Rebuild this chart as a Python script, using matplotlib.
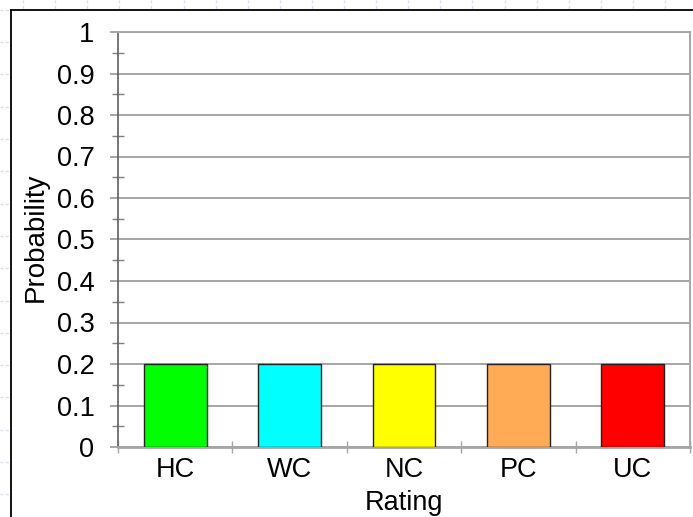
import matplotlib
matplotlib.use("Agg")
import matplotlib.pyplot as plt
import numpy as np
from matplotlib.lines import Line2D
from matplotlib.ticker import MultipleLocator, FuncFormatter

plt.rcParams['font.family'] = ['Liberation Sans', 'DejaVu Sans']

# Data
ratings = ["HC", "WC", "NC", "PC", "UC"]
probabilities = [0.2, 0.2, 0.2, 0.2, 0.2]
bar_colors = ["#00FF00", "#00FFFF", "#FFFF00", "#FFAA55", "#FF0000"]

W, H = 693, 517
fig = plt.figure(figsize=(W / 100, H / 100), dpi=100)
fig.patch.set_facecolor("white")


def fx(px):
    return px / W


def fy(py):
    return 1 - py / H


# faint worksheet cell grid visible around the chart frame
for gx in np.arange(23, W, 32.1):
    fig.add_artist(Line2D([fx(gx), fx(gx)], [fy(0), fy(9)], color="#d6def2",
                          lw=1, ls=(0, (2, 2))))
for gy in np.arange(9.8, H, 32.3):
    fig.add_artist(Line2D([fx(0), fx(10)], [fy(gy), fy(gy)], color="#d6def2",
                          lw=1, ls=(0, (2, 2))))

# chart frame
fig.add_artist(Line2D([fx(11), fx(W)], [fy(10), fy(10)], color="black", lw=1.3))
fig.add_artist(Line2D([fx(11), fx(11)], [fy(10), fy(H)], color="black", lw=1.3))

ax = fig.add_axes([fx(118), fy(447), fx(690) - fx(118), fy(32) - fy(447)])
x = np.arange(len(ratings))
ax.bar(x, probabilities, width=0.55, color=bar_colors, edgecolor="#222222",
       linewidth=1.0, zorder=3)

ax.set_xlim(-0.5, len(ratings) - 0.5)
ax.set_ylim(0, 1)

ax.yaxis.set_major_locator(MultipleLocator(0.1))
ax.yaxis.set_minor_locator(MultipleLocator(0.05))
ax.yaxis.set_major_formatter(FuncFormatter(lambda v, p: f"{v:.1f}".rstrip("0").rstrip(".") if v else "0"))
ax.grid(axis="y", which="major", color="#a6a6a6", lw=1.4, zorder=0)

ax.set_xticks(x)
ax.set_xticklabels(ratings)
ax.set_xticks(np.arange(-0.5, len(ratings)), minor=True)

ax.tick_params(axis="y", which="major", direction="out", length=6, width=1.4,
               color="#a6a6a6", labelsize=19.5, pad=11)
ax.tick_params(axis="y", which="minor", direction="inout", length=8, width=1,
               color="#808080")
ax.tick_params(axis="x", which="major", length=0, labelsize=19.5, pad=7.5)
ax.tick_params(axis="x", which="minor", direction="inout", length=9, width=1,
               color="#a6a6a6")

for side in ("top", "right"):
    ax.spines[side].set_color("#a6a6a6")
    ax.spines[side].set_linewidth(1.4)
ax.spines["left"].set_color("#606060")
ax.spines["left"].set_linewidth(1.2)
ax.spines["bottom"].set_color("#a6a6a6")
ax.spines["bottom"].set_linewidth(2)

ax.set_ylabel("Probability", fontsize=20)
ax.yaxis.set_label_coords(-0.121, 0.505)
ax.set_xlabel("Rating", fontsize=19.5)
ax.xaxis.set_label_coords(0.5, -0.104)

fig.savefig("out.png", dpi=100)
